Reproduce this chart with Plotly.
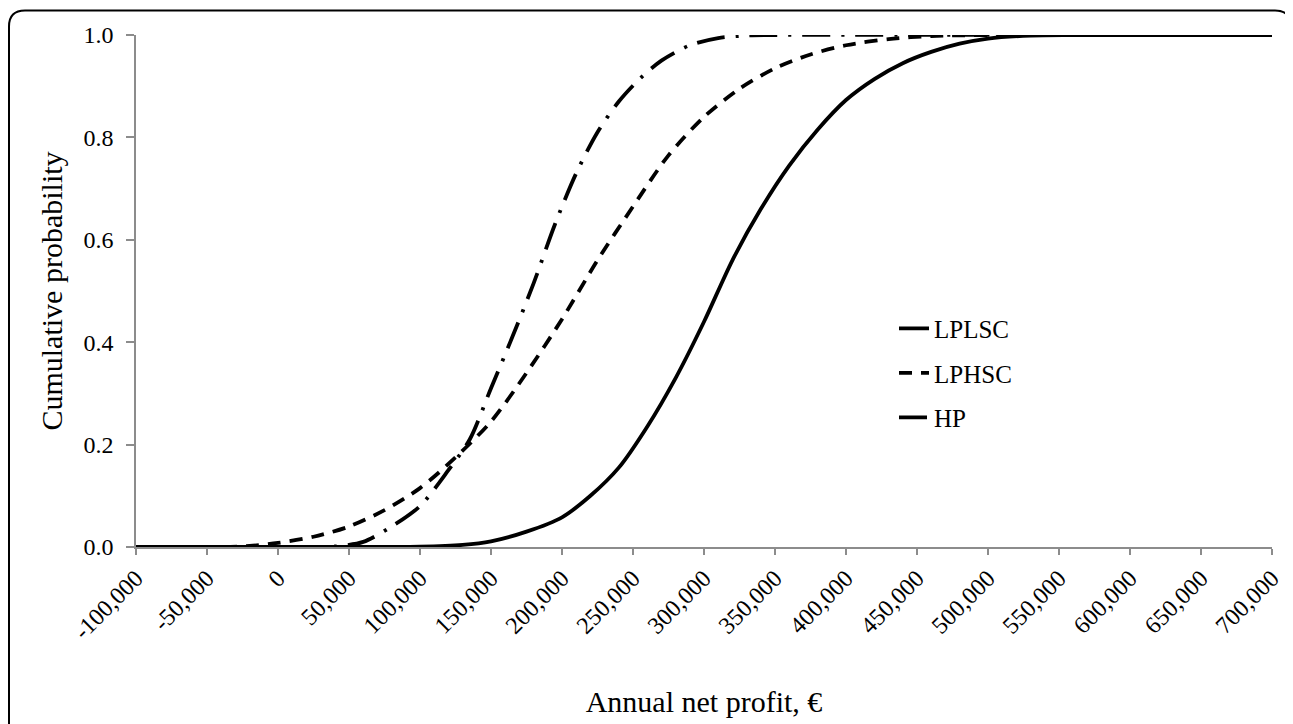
import plotly.graph_objects as go

# ---- data ----
lplsc_x = [-100000, 60000, 100000, 130000, 150000, 175000, 200000, 220000, 240000, 260000,
           280000, 300000, 320000, 340000, 360000, 380000, 400000, 420000, 440000, 460000,
           480000, 500000, 530000, 560000, 700000]
lplsc_p = [0.0, 0.0, 0.0005, 0.004, 0.011, 0.03, 0.058, 0.10, 0.155, 0.235,
           0.33, 0.44, 0.56, 0.66, 0.745, 0.815, 0.873, 0.914, 0.945, 0.967,
           0.983, 0.993, 0.999, 1.0, 1.0]

lphsc_x = [-100000, -40000, -20000, 0, 25000, 50000, 75000, 100000, 125000, 150000,
           175000, 200000, 225000, 250000, 275000, 300000, 325000, 350000, 375000, 400000,
           430000, 460000, 500000, 700000]
lphsc_p = [0.0, 0.0, 0.002, 0.008, 0.02, 0.04, 0.072, 0.115, 0.175, 0.245,
           0.34, 0.445, 0.56, 0.665, 0.765, 0.84, 0.895, 0.935, 0.962, 0.98,
           0.992, 0.998, 1.0, 1.0]

hp_x = [-100000, 20000, 40000, 60000, 80000, 100000, 120000, 135000, 150000, 165000,
        180000, 195000, 210000, 225000, 240000, 255000, 270000, 290000, 310000, 330000,
        350000, 700000]
hp_p = [0.0, 0.0, 0.001, 0.01, 0.04, 0.08, 0.15, 0.21, 0.31, 0.41,
        0.515, 0.63, 0.73, 0.81, 0.87, 0.915, 0.95, 0.98, 0.994, 0.999,
        1.0, 1.0]

series_names = ["LPLSC", "LPHSC", "HP"]

x_tick_vals = [-100000, -50000, 0, 50000, 100000, 150000, 200000, 250000, 300000,
               350000, 400000, 450000, 500000, 550000, 600000, 650000, 700000]
x_tick_text = ["-100,000", "-50,000", "0", "50,000", "100,000", "150,000", "200,000",
               "250,000", "300,000", "350,000", "400,000", "450,000", "500,000",
               "550,000", "600,000", "650,000", "700,000"]
y_tick_vals = [0.0, 0.2, 0.4, 0.6, 0.8, 1.0]
y_tick_text = ["0.0", "0.2", "0.4", "0.6", "0.8", "1.0"]

FONT = "Liberation Serif, Times New Roman, serif"
W, H = 1293, 724
OFF = 8  # page body margin
# plot area in screen pixels: x 136..1272, y 34.5..547
ML, MT = 136 - OFF, 34.5 - OFF
MR = W - (1272 - OFF)
MB = H - (547 - OFF)

fig = go.Figure()
styles = ["solid", "13px,9px", "28px,11px,3px,11px"]
for name, xs, ps, dash in zip(series_names, [lplsc_x, lphsc_x, hp_x],
                              [lplsc_p, lphsc_p, hp_p], styles):
    fig.add_trace(go.Scatter(
        x=xs, y=ps, mode="lines", name=name, legendgroup=name,
        line=dict(color="black", width=3.8, dash=dash, shape="spline", smoothing=0.8),
        cliponaxis=False,
    ))

pw = W - ML - MR
ph = H - MT - MB
def px(xs):  # screen x -> paper
    return (xs - OFF - ML) / pw
def py(ys):  # screen y -> paper
    return (H - MB - (ys - OFF)) / ph
r = 16
frame = (f"M {px(9)},{py(770)} L {px(9)},{py(10 + r)} "
         f"Q {px(9)},{py(10)} {px(9 + r)},{py(10)} "
         f"L {px(1291 - r)},{py(10)} Q {px(1291)},{py(10)} {px(1291)},{py(10 + r)} "
         f"L {px(1291)},{py(770)}")

fig.update_layout(
    width=W, height=H,
    margin=dict(l=ML, r=MR, t=MT, b=MB, pad=0),
    paper_bgcolor="white", plot_bgcolor="white",
    font=dict(family=FONT, color="black", size=24),
    showlegend=True,
    legend=dict(
        x=px(894), y=py(373), xanchor="left", yanchor="middle",
        bgcolor="rgba(0,0,0,0)", font=dict(family=FONT, size=25, color="black"),
        tracegroupgap=9, itemwidth=30,
    ),
    shapes=[dict(type="path", xref="paper", yref="paper", path=frame,
                 line=dict(color="black", width=2), layer="above")],
    xaxis=dict(
        range=[-100000, 700000], tickmode="array", tickvals=x_tick_vals,
        ticktext=x_tick_text, tickangle=-45, ticks="outside", ticklen=6,
        tickcolor="#8c8c8c", tickwidth=1.5, showline=True, linecolor="#8c8c8c",
        linewidth=1.5, showgrid=False, zeroline=False,
        tickfont=dict(family=FONT, size=24, color="black"),
        title=dict(text="Annual net profit, €", font=dict(family=FONT, size=30, color="black"),
                   standoff=48),
    ),
    yaxis=dict(
        range=[0, 1], tickmode="array", tickvals=y_tick_vals, ticktext=y_tick_text,
        ticks="outside", ticklen=8, tickcolor="#8c8c8c", tickwidth=1.5,
        showline=True, linecolor="#8c8c8c", linewidth=1.5, showgrid=False, zeroline=False,
        ticklabelstandoff=8,
        tickfont=dict(family=FONT, size=24, color="black"),
        title=dict(text="Cumulative probability", font=dict(family=FONT, size=30, color="black"),
                   standoff=12),
    ),
)

fig.write_html("out.html")
